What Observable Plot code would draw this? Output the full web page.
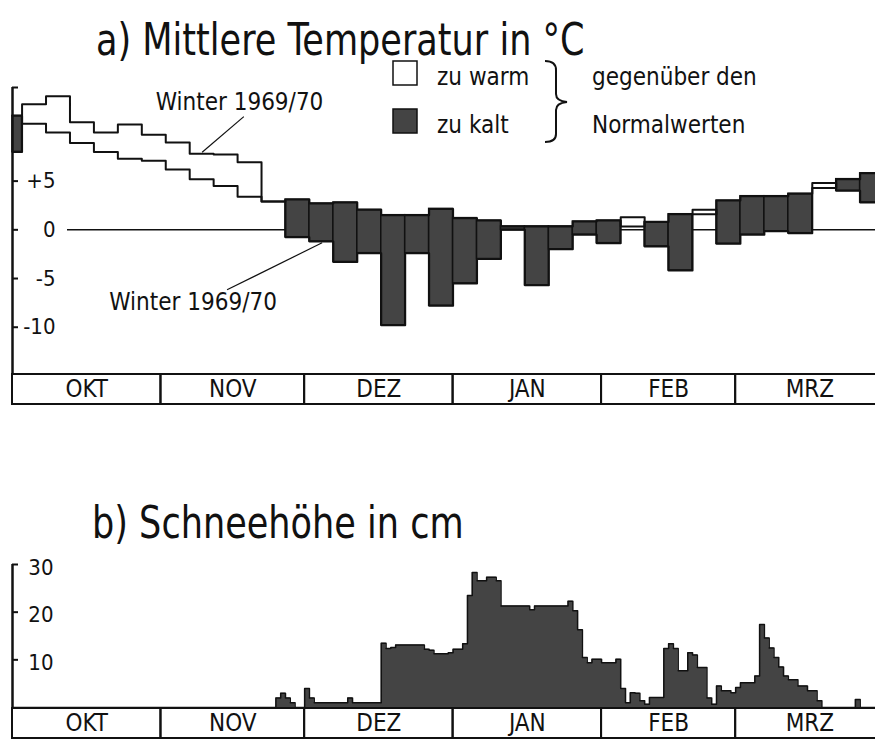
<!DOCTYPE html>
<html><head><meta charset="utf-8">
<script src="https://cdn.jsdelivr.net/npm/d3@7"></script>
<script src="https://cdn.jsdelivr.net/npm/@observablehq/plot@0.6"></script>
<style>
html,body{margin:0;padding:0;background:#fff;}
body{width:875px;height:739px;position:relative;overflow:hidden;font-family:"DejaVu Sans Condensed","DejaVu Sans",sans-serif;color:#111;}
.abs{position:absolute;}
.title{font-family:"DejaVu Sans Condensed","DejaVu Sans",sans-serif;font-size:39px;line-height:39px;white-space:nowrap;color:#111;transform:scaleY(1.12);transform-origin:0 33px;}
</style></head><body>
<div class="abs title" style="left:96px;top:22px">a) Mittlere Temperatur in °C</div>
<svg class="abs" style="left:380px;top:50px" width="400" height="100">
  <rect x="13" y="11" width="24" height="24" fill="#fff" stroke="#111" stroke-width="1.5"></rect>
  <rect x="13" y="59" width="24" height="24" fill="#444" stroke="#111" stroke-width="1.5"></rect>
  <g font-family="DejaVu Sans Condensed, DejaVu Sans, sans-serif" font-size="24" fill="#111">
    <text x="57" y="35">zu warm</text>
    <text x="57" y="83">zu kalt</text>
    <text x="212" y="35">gegenüber den</text>
    <text x="212" y="83">Normalwerten</text>
  </g>
  <path d="M165,11 Q176,11 176,20 L176,44 Q176,51 187,52 Q176,53 176,60 L176,84 Q176,92 165,92" fill="none" stroke="#111" stroke-width="2"></path>
</svg>
<div id="chartA" class="abs" style="left:0;top:80px"></div>
<div id="bandA" class="abs" style="left:0;top:373px"></div>
<div class="abs title" style="left:92px;top:505px">b) Schneehöhe in cm</div>
<div id="chartB" class="abs" style="left:0;top:556px"></div>
<div id="bandB" class="abs" style="left:0;top:707px"></div>
<script>
// ---- data ----
// pentad means (5-day), first pentad partially before 1 Oct
const normalTemp = [11.7, 10.9, 10.0, 8.9, 8.0, 7.3, 7.1, 6.2, 5.2, 4.5, 3.4, 2.9, 3.1, 2.7, 2.8, 2.05, 1.5, 1.5, 2.15, 1.2, 0.95, 0.35, 0.35, 0.35, 0.85, 0.95, 0.35, 0.8, 1.6, 1.6, 3.0, 3.45, 3.45, 3.7, 4.3, 5.2, 5.8];
const actualTemp = [8.0, 12.9, 13.7, 11.05, 10.0, 10.8, 9.75, 8.96, 7.8, 7.73, 6.94, 2.9, -0.76, -1.2, -3.3, -2.4, -9.8, -2.4, -7.8, -5.5, -3.0, 0.0, -5.7, -2.0, -0.5, -1.37, 1.3, -1.7, -4.17, 2.05, -1.44, -0.5, -0.15, -0.35, 4.8, 4.0, 2.8];
// daily snow depth in cm, day 0 = 1 Oct
const snowDepth = [
 0,0,0,0,0,0,0,0,0,0, 0,0,0,0,0,0,0,0,0,0, 0,0,0,0,0,0,0,0,0,0,
 0,0,0,0,0,0,0,0,0,0, 0,0,0,0,0,0,0,0,0,0, 0,0,0,0,0,
 2,3,2,1, 0,0, 4,2, 1,1,1,1,1,1, 1,2, 1,1,1,1,1,1,
 13.5,12.4,12.6, 13.1,13.1,13.1,13.1,13.1,13.1, 12.2,12.0, 11.3,11.3,11.3,
 11.5,12.2,12.2,13.4, 23.5,28.3,26.6,26.6,27.3,27.3,26.6,
 21.3,21.3,21.3,21.3,21.3,21.3, 20.5, 21.3,21.3,21.3,21.3,21.3,21.3,21.3,
 22.3,20.3,16.3,10.5,9.4,10.1,10.1,9.4,9.4,9.4,10.1,
 4,1,3.1,3,1.4,0.7,2.1,2.1,2.1,
 12.4,13.4,12.4,7.7,7.7,11.5,11.0,8.4,8.4,2,0.7,
 4.5,3.5,3.5,3.1,4.2,
 5.2,5.2,5.2,6.6,17.4,14.6,12.5,10.5,8.5,6.6,5.8,5.8,4.5,4.5,3.5,3.5,1.4,
 0,0,0,0,0,0,0, 1.7, 0,0,0,0
];
const monthNames = ["OKT", "NOV", "DEZ", "JAN", "FEB", "MRZ"];
const monthLengths = [31, 30, 31, 31, 28, 31];
const tempTicks = [5, 0, -5, -10];
const tempTickLabels = ["+5", "0", "-5", "-10"];
const snowTicks = [10, 20, 30];
const snowTickLabels = ["10", "20", "30"];
const annotations = [
  {label: "Winter 1969/70", tx: 47.4, ty: 13.07, x1: 48.3, y1: 11.62, x2: 39.6, y2: 7.97},
  {label: "Winter 1969/70", tx: 37.7, ty: -7.46, x1: 44.8, y1: -6.16, x2: 64.65, y2: -1.33}
];

// ---- derived tables ----
const pentads = normalTemp.map((n, k) => ({
  x1: k === 0 ? 0 : 2 + 5 * (k - 1), x2: 2 + 5 * k, normal: n, actual: actualTemp[k]
}));
const stepPts = pentads.map(p => ({x: p.x1, normal: p.normal, actual: p.actual}));
stepPts.push({x: pentads.at(-1).x2, normal: pentads.at(-1).normal, actual: pentads.at(-1).actual});
const snowPts = snowDepth.map((v, d) => ({d, v}));
snowPts.push({d: snowDepth.length, v: snowDepth.at(-1)});
let acc = 0;
const months = monthNames.map((name, i) => { const s = acc; acc += monthLengths[i]; return {name, start: s, end: acc, mid: (s + acc) / 2}; });

const X_DOMAIN = [0, 180.2];
const INK = "#111";
const DARK = "#444";
const FONT = "'DejaVu Sans Condensed', 'DejaVu Sans', sans-serif";
const baseStyle = {fontFamily: FONT, fontSize: "22px", color: INK, background: "none", overflow: "visible"};
const yTop = 14.61;

const chartA = Plot.plot({
  width: 875, height: 293, marginLeft: 12, marginRight: 0, marginTop: 7, marginBottom: 0,
  x: {domain: X_DOMAIN, axis: null},
  y: {domain: [-14.75, yTop], axis: null},
  style: baseStyle,
  marks: [
    Plot.ruleY([0], {insetLeft: 55, stroke: INK, strokeWidth: 1.5}),
    Plot.rect(pentads.filter(p => p.actual < p.normal), {x1: "x1", x2: "x2", y1: "actual", y2: "normal", fill: DARK, stroke: INK, strokeWidth: 1.5}),
    Plot.line(stepPts, {x: "x", y: "normal", curve: "step-after", stroke: INK, strokeWidth: 2}),
    Plot.line(stepPts, {x: "x", y: "actual", curve: "step-after", stroke: INK, strokeWidth: 2}),
    Plot.ruleX([0], {stroke: INK, strokeWidth: 2.5}),
    Plot.tickY([...tempTicks, yTop], {y: d => d, insetRight: 857, stroke: INK, strokeWidth: 2}),
    Plot.text(tempTicks, {y: d => d, text: (d, i) => tempTickLabels[i], frameAnchor: "left", dx: 43, textAnchor: "end", fontSize: 22}),
    Plot.link(annotations, {x1: "x1", y1: "y1", x2: "x2", y2: "y2", stroke: INK, strokeWidth: 1.2}),
    Plot.text(annotations, {x: "tx", y: "ty", text: "label", fontSize: 24})
  ]
});
document.getElementById("chartA").append(chartA);

function band() {
  return Plot.plot({
    width: 875, height: 32, marginLeft: 12, marginRight: 0, marginTop: 0, marginBottom: 0,
    x: {domain: X_DOMAIN, axis: null},
    style: baseStyle,
    marks: [
      Plot.rect(months, {x1: "start", x2: "end", insetTop: 1, insetBottom: 1, fill: "none", stroke: INK, strokeWidth: 2}),
      Plot.text(months, {x: "mid", text: "name", fontSize: 24})
    ]
  });
}
document.getElementById("bandA").append(band());

const chartB = Plot.plot({
  width: 875, height: 151, marginLeft: 12, marginRight: 0, marginTop: 8, marginBottom: 0,
  x: {domain: X_DOMAIN, axis: null},
  y: {domain: [0, 30], axis: null},
  style: baseStyle,
  marks: [
    Plot.areaY(snowPts, {x: "d", y: "v", curve: "step-after", fill: DARK}),
    Plot.line(snowPts, {x: "d", y: "v", curve: "step-after", stroke: INK, strokeWidth: 1.5}),
    Plot.ruleX([0], {stroke: INK, strokeWidth: 2.5}),
    Plot.tickY(snowTicks, {y: d => d, insetRight: 857, stroke: INK, strokeWidth: 2}),
    Plot.text(snowTicks, {y: d => d, text: (d, i) => snowTickLabels[i], frameAnchor: "left", dx: 41, dy: 3, textAnchor: "end", fontSize: 22})
  ]
});
document.getElementById("chartB").append(chartB);
document.getElementById("bandB").append(band());
</script>
</body></html>
